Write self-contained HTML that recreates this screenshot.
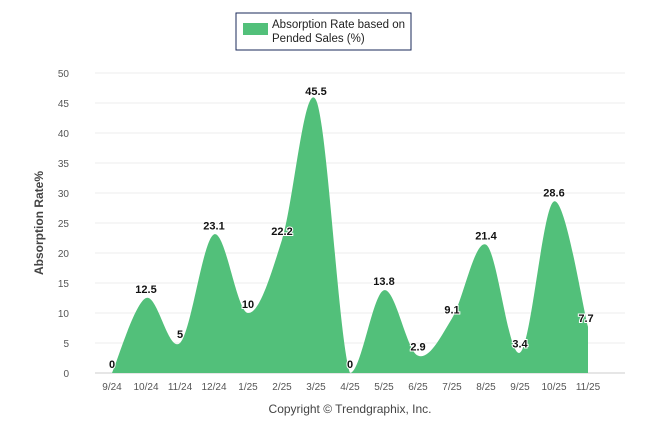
<!DOCTYPE html>
<html><head><meta charset="utf-8"><style>
html,body{margin:0;padding:0;background:#fff;}
svg{display:block;font-family:"Liberation Sans",Arial,sans-serif;}
</style></head><body>
<svg id="chart" width="646" height="434">
  <g id="grid"></g>
  <g id="yticks"></g>
  <g id="xticks"></g>
  <path id="area" fill="#52c07a" stroke="none"></path>
  <g id="labels"></g>
  <text transform="translate(43,223) rotate(-90)" text-anchor="middle" font-size="12" font-weight="bold" fill="#444">Absorption Rate%</text>
  <text x="350" y="413" text-anchor="middle" font-size="12" fill="#444">Copyright © Trendgraphix, Inc.</text>
  <g>
    <rect x="236" y="13" width="175" height="37" fill="#fff" stroke="#1a2a5a" stroke-width="1"></rect>
    <rect x="243" y="23" width="25" height="12" fill="#52c07a"></rect>
    <text x="272" y="28" font-size="11.5" fill="#222">Absorption Rate based on</text>
    <text x="272" y="42" font-size="11.5" fill="#222">Pended Sales (%)</text>
  </g>
</svg>
<script>
const categories=["9/24","10/24","11/24","12/24","1/25","2/25","3/25","4/25","5/25","6/25","7/25","8/25","9/25","10/25","11/25"];
const values=[0,12.5,5,23.1,10,22.2,45.5,0,13.8,2.9,9.1,21.4,3.4,28.6,7.7];
const yTicks=[0,5,10,15,20,25,30,35,40,45,50];
const NS="http://www.w3.org/2000/svg";
const plotLeft=95,plotRight=625,plotTop=73,plotBottom=373,x0=112,step=34;
function xs(i){return x0+i*step;}
function ys(v){return plotBottom-(v/50)*(plotBottom-plotTop);}
function mk(t,a,p){const e=document.createElementNS(NS,t);for(const k in a)e.setAttribute(k,a[k]);p.appendChild(e);return e;}
const grid=document.getElementById('grid'),yt=document.getElementById('yticks'),xt=document.getElementById('xticks');
yTicks.forEach(v=>{
  const l=mk('line',{x1:plotLeft,x2:plotRight,y1:ys(v),y2:ys(v),stroke:v===0?'#ccc':'#eee','stroke-width':1},grid);
  
  
  const t=mk('text',{x:69,y:ys(v)+4,'text-anchor':'end','font-size':10,fill:'#555'},yt);
  t.textContent=v;
  
  
});
categories.forEach((c,i)=>{
  const t=mk('text',{x:xs(i),y:390,'text-anchor':'middle','font-size':10,fill:'#555'},xt);
  t.textContent=c;
  
  
});
const pts=values.map((v,i)=>[xs(i),ys(v)]);
let d=`M${pts[0][0]},${plotBottom} L${pts[0][0]},${pts[0][1]}`;
for(let i=0;i<pts.length-1;i++){
  const p0=pts[i-1]||pts[i],p1=pts[i],p2=pts[i+1],p3=pts[i+2]||p2;
  const k=1/6;
  const c1=[p1[0]+(p2[0]-p0[0])*k,Math.min(plotBottom,p1[1]+(p2[1]-p0[1])*k)];
  const c2=[p2[0]-(p3[0]-p1[0])*k,Math.min(plotBottom,p2[1]-(p3[1]-p1[1])*k)];
  d+=` C${c1[0]},${c1[1]} ${c2[0]},${c2[1]} ${p2[0]},${p2[1]}`;
}
d+=` L${pts[pts.length-1][0]},${plotBottom} Z`;
document.getElementById('area').setAttribute('d',d);
const lg=document.getElementById('labels');
values.forEach((v,i)=>{
  const t=mk('text',{x:xs(i)-(i===values.length-1?2:0),y:ys(v)-5,'text-anchor':'middle','font-size':11,'font-weight':'bold',fill:'#111',stroke:'#fff','stroke-width':2,'paint-order':'stroke'},lg);
  t.textContent=v;
  
  
});
</script>
</body></html>
